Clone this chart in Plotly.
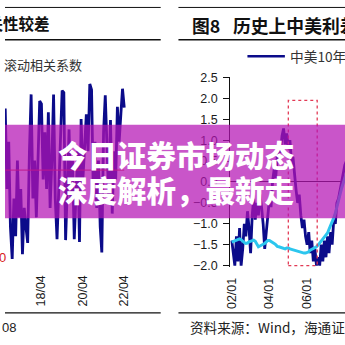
import plotly.graph_objects as go
import pandas as pd

W = H = 345

# Left panel: rolling correlation coefficient, monthly from 2016-07
corr_start = "2016-07-01"
corr_values = [
    0.65, -0.20, 0.30, -0.60, -0.94, -0.30, -0.70, 0.10, -0.50, -0.20,
    -0.89, -0.40, -0.60, -0.77, 0.20, 0.80, -0.30, 0.10, -0.50, 0.20,
    0.73, 0.70, -0.10, 0.40, -0.20, 0.61, -0.40, 0.10, 0.80, -0.30,
    -0.73, -0.20, 0.30, 0.84, 0.82, -0.74, -0.20, 0.43, -0.30, 0.10,
    -0.73, -0.30, 0.20, -0.76, 0.54, -0.10, 0.30, 0.59, 0.20, 0.91,
    0.85, -0.20, 0.30, -0.40, 0.10, -0.60, -0.87, 0.40, 0.79, 0.10,
    -0.30, 0.53, -0.46, 0.20, -0.10, 0.67, 0.30, 0.60, 0.86, 0.66,
]
corr_dates = pd.date_range(corr_start, periods=len(corr_values), freq="MS")

# Right panel: China-US 10Y yield spread and a smoother companion series, monthly from 2002-01
spread_start = "2002-01-01"
spread_values = [
    -1.40, -1.75, -2.00, -1.30, -1.90, -1.10, -2.00, -1.60, -1.00, -1.30, -0.70, -1.10,
    -1.70, -0.80, -0.40, -0.90, -0.50, -0.80, -0.30, -0.60, -1.00, -1.60, -1.20, -0.70,
    -0.40, -0.60, 0.00, 0.30, 0.10, 0.60, 0.90, 0.70, 1.10, 1.28, 0.90, 1.16,
    0.80, 1.00, 0.50, 0.60, 0.10, -0.20, -0.50, -0.30, -0.80, -1.10, -0.90, -1.30,
    -1.50, -1.20, -1.70, -1.40, -1.90, -1.60, -2.00, -1.80, -2.00, -1.50, -1.90, -1.40,
    -1.80, -1.30, -1.70, -1.20, -1.50, -0.90, -1.00, -0.50, -0.40, -0.20, 0.00, 0.20,
    0.40, 0.50,
]
smooth_values = [
    -1.44, -1.42, -1.40, -1.38, -1.37, -1.36, -1.38, -1.42, -1.45, -1.47, -1.46, -1.43,
    -1.41, -1.40, -1.39, -1.42, -1.50, -1.55, -1.53, -1.50, -1.49, -1.47, -1.43, -1.40,
    -1.40, -1.42, -1.45, -1.47, -1.50, -1.54, -1.55, -1.56, -1.58, -1.59, -1.60, -1.58,
    -1.58, -1.60, -1.61, -1.62, -1.64, -1.66, -1.67, -1.67, -1.68, -1.69, -1.70, -1.70,
    -1.69, -1.67, -1.63, -1.61, -1.59, -1.57, -1.55, -1.51, -1.46, -1.42, -1.38, -1.33,
    -1.28, -1.22, -1.13, -1.05, -0.96, -0.86, -0.75, -0.62, -0.46, -0.30, -0.15, -0.02,
    0.12, 0.22,
]
spread_dates = pd.date_range(spread_start, periods=len(spread_values), freq="MS")

spread_ticks = [-2.0, -1.5, -1.0, -0.5, 0.0, 0.5, 1.0, 1.5, 2.0, 2.5]
window_start, window_end = "2005-01-01", "2006-07-15"
window_low, window_high = -2.0, 1.95

NAVY = "#0b0b8a"
CYAN = "#2cc6ee"
AXIS_FONT = dict(family="Arial, Liberation Sans, sans-serif", size=12.5, color="#1a1a1a")
CJK = "Noto Sans CJK SC, sans-serif"


def px(x):
    return x / W


def py(y):
    return 1 - y / H


fig = go.Figure()
fig.add_trace(go.Scatter(x=corr_dates, y=corr_values, mode="lines", name="滚动相关系数",
                         line=dict(color=NAVY, width=2.8), xaxis="x", yaxis="y"))
fig.add_trace(go.Scatter(x=spread_dates, y=spread_values, mode="lines", name="中美10年期国债利差",
                         line=dict(color=NAVY, width=2.8), xaxis="x2", yaxis="y2"))
fig.add_trace(go.Scatter(x=spread_dates, y=smooth_values, mode="lines", name="均值",
                         line=dict(color=CYAN, width=3), xaxis="x2", yaxis="y2"))

shapes = [
    # zero line of the correlation panel
    dict(type="line", xref="x", yref="y", x0=corr_dates[0], x1=corr_dates[-1], y0=0, y1=0,
         line=dict(color="#d82020", width=1)),
    # highlighted window on the spread panel
    dict(type="rect", xref="x2", yref="y2", x0=window_start, x1=window_end,
         y0=window_low, y1=window_high, line=dict(color="#e23a55", width=1.3, dash="dot"),
         layer="above"),
]
# frame rules of both panels
for x0, x1 in [(0, 158), (176, 345)]:
    for y, w in [(1.5, 1), (35, 1.6), (318, 1.2)]:
        shapes.append(dict(type="line", xref="paper", yref="paper", x0=px(x0), x1=px(x1),
                           y0=py(y), y1=py(y), line=dict(color="#111111", width=w)))
# legend sample
shapes.append(dict(type="line", xref="paper", yref="paper", x0=px(246), x1=px(284),
                   y0=py(52), y1=py(52), line=dict(color=NAVY, width=2.6)))
# headline band
shapes.append(dict(type="rect", xref="paper", yref="paper", x0=0, x1=1, y0=py(220), y1=py(123),
                   fillcolor="rgba(180,20,180,0.72)", line=dict(width=0), layer="above"))


def note(text, x, y, size, color="#222222", anchor="left", family=CJK, weight="normal"):
    return dict(text=text, x=px(x), y=py(y), xref="paper", yref="paper", showarrow=False,
                xanchor=anchor, yanchor="middle",
                font=dict(family=family, size=size, color=color, weight=weight))


annotations = [
    note("相关性较差", 48, 18, 15.5, "#111111", "right", weight="bold"),
    note("图8", 188, 19.5, 17.8, "#111111", weight="bold"),
    note("历史上中美利差走势", 229, 19.5, 17.8, "#111111", weight="bold"),
    note("滚动相关系数", -3, 61, 13, "#333333"),
    note("中美10年期国债利差", 287, 52, 13.7, "#333333"),
    note("0", -3, 261, 13, "#d82020", "center", family="Arial, Liberation Sans"),
    note("08", 13, 333, 13, "#222222", "right", family="Arial, Liberation Sans"),
    note("资料来源：Wind，海通证券研究所", 186, 333, 13.6, "#222222"),
    note("今日证券市场动态", 52, 153.5, 29.5, "#ffffff", weight=900),
    note("深度解析，最新走", 52, 190, 29.5, "#ffffff", weight=900),
]

fig.update_layout(
    width=W, height=H, margin=dict(l=0, r=0, t=0, b=0),
    paper_bgcolor="white", plot_bgcolor="white", showlegend=False,
    shapes=shapes, annotations=annotations,
    xaxis=dict(domain=[0, px(160)], range=["2016-06-27", "2024-02-08"], type="date",
               tick0="2018-04-01", dtick="M24", tickformat="%y/%m", tickangle=-90,
               showline=False, showgrid=False, zeroline=False, ticks="",
               ticklabelstandoff=7, tickfont=AXIS_FONT),
    yaxis=dict(domain=[py(268), py(72)], range=[-1, 1], visible=False),
    xaxis2=dict(domain=[px(228.5), 1], range=["2001-12-01", "2008-01-05"], type="date",
                anchor="y2", tick0="2002-01-01", dtick="M24", tickformat="%y/%m", tickangle=-90,
                showline=False, showgrid=False, zeroline=False, ticks="",
                ticklabelstandoff=7, tickfont=AXIS_FONT),
    yaxis2=dict(domain=[py(270.7), py(73.1)], range=[-2.04, 2.52], anchor="x2",
                showline=True, linecolor="#111111", linewidth=1, ticks="outside", ticklen=6,
                tickcolor="#111111", tickvals=spread_ticks, tickformat=".1f",
                showgrid=False, zeroline=True, zerolinecolor="#111111", zerolinewidth=1,
                ticklabelstandoff=3, tickfont=AXIS_FONT),
)

fig.write_html("out.html")
